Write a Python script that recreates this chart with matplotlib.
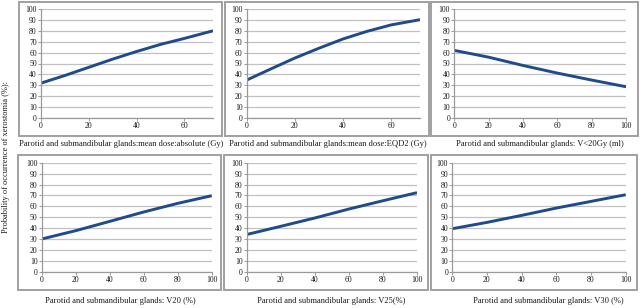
import matplotlib
matplotlib.use("Agg")
import matplotlib.pyplot as plt
from matplotlib.patches import Rectangle
from matplotlib.ticker import MultipleLocator

plt.rcParams['font.family'] = ['Liberation Serif', 'DejaVu Serif']

# ---- data ----
x_mean_abs = [0, 10, 20, 30, 40, 50, 60, 72]
y_mean_abs = [32, 39, 46.5, 54, 61, 67.5, 73, 80]

x_eqd2 = [0, 10, 20, 30, 40, 50, 60, 72]
y_eqd2 = [34.8, 45, 55, 64, 72.5, 79.5, 85.4, 90.2]

x_v20gy = [0, 20, 40, 60, 80, 100]
y_v20gy = [62, 55.8, 48.2, 41.2, 34.8, 28.7]

x_v20 = [0, 20, 40, 60, 80, 100]
y_v20 = [30.2, 37.8, 46.3, 54.9, 62.8, 69.8]

x_v25 = [0, 20, 40, 60, 80, 100]
y_v25 = [34.3, 41.8, 49.4, 57.6, 65.2, 72.6]

x_v30 = [0, 20, 40, 60, 80, 100]
y_v30 = [39.6, 45.4, 51.8, 58.5, 64.6, 70.7]

xlabels = [
    "Parotid and submandibular glands:mean dose:absolute (Gy)",
    "Parotid and submandibular glands:mean dose:EQD2 (Gy)",
    "Parotid and submandibular glands: V<20Gy (ml)",
    "Parotid and submandibular glands: V20 (%)",
    "Parotid and submandibular glands: V25(%)",
    "Parotid and submandibular glands: V30 (%)",
]
ylabel = "Probability of occurrence of xerostomia (%):"

series = [
    (x_mean_abs, y_mean_abs, 72, 20),
    (x_eqd2, y_eqd2, 72, 20),
    (x_v20gy, y_v20gy, 100, 20),
    (x_v20, y_v20, 100, 20),
    (x_v25, y_v25, 100, 20),
    (x_v30, y_v30, 100, 20),
]

W, H = 640, 308
fig = plt.figure(figsize=(6.4, 3.08), dpi=100)

def fx(px):
    return px / W

def fy(py):
    return 1 - py / H

# axes rects in pixels: (left, right, top, bottom)
ax_px = [
    (41, 213, 9, 118),
    (246.7, 420, 9, 118),
    (454.3, 626, 9, 118),
    (41.7, 211.7, 162.7, 272),
    (246.7, 417, 162.7, 272),
    (452.3, 625.7, 162.7, 272),
]
# boxes (left, right, top, bottom)
box_px = [
    (19, 222, 2, 136),
    (225, 429, 2, 136),
    (431, 638, 2, 136),
    (18, 221, 155, 290),
    (224, 428, 155, 290),
    (431, 637, 155, 290),
]
label_pos = [(121, 144), (328, 144), (540, 144), (120, 301), (331, 301), (548, 301)]

line_color = "#1f4a8c"
grid_color = "#c2c2c2"
spine_color = "#9a9a9a"
text_color = "#1a1a1a"

for (l, r, t, b) in box_px:
    fig.patches.append(Rectangle((fx(l), fy(b)), fx(r) - fx(l), fy(t) - fy(b),
                                 transform=fig.transFigure, fill=False,
                                 edgecolor="#a0a0a0", linewidth=1.4))

for i, ((xs, ys, xmax, xstep), (l, r, t, b)) in enumerate(zip(series, ax_px)):
    ax = fig.add_axes([fx(l), fy(b), fx(r) - fx(l), fy(t) - fy(b)])
    ax.plot(xs, ys, color=line_color, linewidth=2.1, solid_capstyle='butt',
            solid_joinstyle='round')
    ax.set_xlim(0, xmax)
    ax.set_ylim(0, 100)
    ax.yaxis.set_major_locator(MultipleLocator(10))
    ax.xaxis.set_major_locator(MultipleLocator(xstep))
    ax.grid(axis='y', color=grid_color, linewidth=0.9)
    ax.set_axisbelow(True)
    for s in ['top', 'right']:
        ax.spines[s].set_visible(False)
    for s in ['left', 'bottom']:
        ax.spines[s].set_color(spine_color)
        ax.spines[s].set_linewidth(0.9)
    ax.tick_params(axis='both', labelsize=5.6, length=2, width=0.7,
                   color=spine_color, pad=1, labelcolor=text_color)
    lx, ly = label_pos[i]
    fig.text(fx(lx), fy(ly), xlabels[i], ha='center', va='center',
             fontsize=6.1, color=text_color)

fig.text(fx(6), fy(157), ylabel, rotation=90, ha='center', va='center',
         fontsize=6.0, color=text_color)

fig.savefig("out.png", dpi=100, facecolor="white")
